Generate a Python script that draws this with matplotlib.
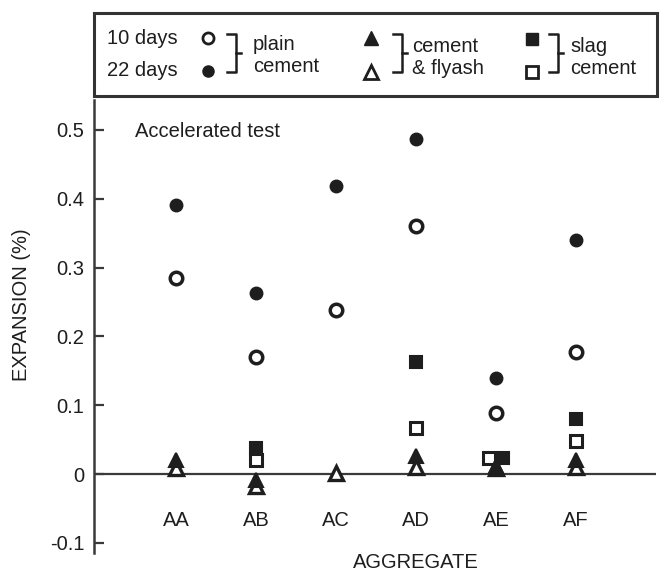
import numpy as np
import matplotlib
matplotlib.use("Agg")
import matplotlib.pyplot as plt

categories = ["AA", "AB", "AC", "AD", "AE", "AF"]
plain_10d = [0.285, 0.170, 0.238, 0.360, 0.089, 0.177]
plain_22d = [0.391, 0.263, 0.419, 0.487, 0.140, 0.340]
flyash_filled = [0.020, -0.008, np.nan, 0.026, 0.012, 0.020]
flyash_open = [0.008, -0.018, 0.002, 0.010, 0.008, 0.010]
slag_filled = [np.nan, 0.038, np.nan, 0.163, 0.023, 0.080]
slag_open = [np.nan, 0.020, np.nan, 0.067, 0.023, 0.048]
yticks = [-0.1, 0, 0.1, 0.2, 0.3, 0.4, 0.5]
ytick_labels = ["-0.1", "0", "0.1", "0.2", "0.3", "0.4", "0.5"]

# small horizontal nudges (style only) where squares sit side by side
sq_open_dx = [0, 0, 0, 0, -0.09, 0]
sq_filled_dx = [0, 0, 0, 0, 0.09, 0]

plt.rcParams["font.family"] = ["Liberation Sans", "DejaVu Sans"]
INK = "#1e1e1e"
W, H = 664, 575
fig = plt.figure(figsize=(W / 100, H / 100), dpi=100)
fig.patch.set_facecolor("white")

# axes placed in pixel space
ax_left, ax_right, ax_top, ax_bot = 94, 656, 100, 553
ax = fig.add_axes([ax_left / W, 1 - ax_bot / H, (ax_right - ax_left) / W, (ax_bot - ax_top) / H])
ax.set_facecolor("none")
y0_px, per = 474, 688.0
ax.set_ylim((y0_px - ax_bot) / per, (y0_px - ax_top) / per)
ax.set_xlim((ax_left - 96) / 80.0, (ax_right - 96) / 80.0)

x = np.arange(1, len(categories) + 1)

ax.axhline(0, xmin=0, xmax=1, color="#3a3a3a", lw=1.6, zorder=1)

ms_c, ms_s, ms_t = 9, 8, 10
ax.plot(x, plain_10d, ls="none", marker="o", ms=ms_c, mfc="white", mec=INK, mew=2.5, zorder=3)
ax.plot(x, plain_22d, ls="none", marker="o", ms=ms_c, mfc=INK, mec=INK, mew=1, zorder=3)
ax.plot(x + np.array(sq_open_dx), slag_open, ls="none", marker="s", ms=ms_s, mfc="white", mec=INK, mew=2.2, zorder=3)
ax.plot(x + np.array(sq_filled_dx), slag_filled, ls="none", marker="s", ms=ms_s, mfc=INK, mec=INK, mew=1.5, zorder=4)
ax.plot(x, flyash_open, ls="none", marker="^", ms=ms_t, mfc="white", mec=INK, mew=2.4, zorder=4)
ax.plot(x, flyash_filled, ls="none", marker="^", ms=ms_t, mfc=INK, mec=INK, mew=1.5, zorder=5)

for xi, name in zip(x, categories):
    ax.text(xi, -0.068, name, ha="center", va="center", fontsize=14.5, color=INK)

ax.text((135 - 96) / 80.0, (y0_px - 132) / per, "Accelerated test", ha="left", va="center",
        fontsize=14.5, color=INK)

for s in ["top", "right", "bottom"]:
    ax.spines[s].set_visible(False)
ax.spines["left"].set_linewidth(1.8)
ax.spines["left"].set_color("#3a3a3a")
ax.set_xticks([])
ax.set_yticks(yticks)
ax.set_yticklabels(ytick_labels)
ax.tick_params(axis="y", direction="in", length=7, width=1.6, color="#3a3a3a",
               labelsize=14.5, labelcolor=INK, pad=7)

fig.text(22 / W, 1 - 305 / H, "EXPANSION (%)", rotation=90, ha="center", va="center",
         fontsize=14.5, color=INK)
fig.text(416 / W, 1 - 562 / H, "AGGREGATE", ha="center", va="center", fontsize=14.5, color=INK)

# legend box drawn in pixel coordinates
lg = fig.add_axes([0, 0, 1, 1])
lg.set_xlim(0, W)
lg.set_ylim(H, 0)
lg.axis("off")
lg.patch.set_visible(False)
lg.add_patch(plt.Rectangle((94, 13), 563, 83, fill=False, ec="#333333", lw=2.2))

fs = 14.5
lg.text(107, 38, "10 days", ha="left", va="center", fontsize=fs, color=INK)
lg.text(107, 71, "22 days", ha="left", va="center", fontsize=fs, color=INK)
lg.plot([208], [38], marker="o", ms=8, mfc="white", mec=INK, mew=2)
lg.plot([208], [71], marker="o", ms=8, mfc=INK, mec=INK)
lg.plot([371], [38], marker="^", ms=9.5, mfc=INK, mec=INK)
lg.plot([371], [72], marker="^", ms=9.5, mfc="white", mec=INK, mew=2)
lg.plot([532], [39], marker="s", ms=8, mfc=INK, mec=INK)
lg.plot([532], [72], marker="s", ms=8, mfc="white", mec=INK, mew=2)


def bracket(xv, top=34, bot=72):
    lg.plot([xv - 9, xv, xv, xv - 9], [top, top, bot, bot], color=INK, lw=1.8)
    mid = (top + bot) / 2
    lg.plot([xv, xv + 5], [mid, mid], color=INK, lw=1.8)


bracket(236)
bracket(402)
bracket(558)
lg.text(253, 45, "plain", ha="left", va="center", fontsize=fs, color=INK)
lg.text(253, 67, "cement", ha="left", va="center", fontsize=fs, color=INK)
lg.text(412, 47, "cement", ha="left", va="center", fontsize=fs, color=INK)
lg.text(412, 68, "& flyash", ha="left", va="center", fontsize=fs, color=INK)
lg.text(570, 47, "slag", ha="left", va="center", fontsize=fs, color=INK)
lg.text(570, 69, "cement", ha="left", va="center", fontsize=fs, color=INK)

fig.savefig("out.png", dpi=100, facecolor="white")
